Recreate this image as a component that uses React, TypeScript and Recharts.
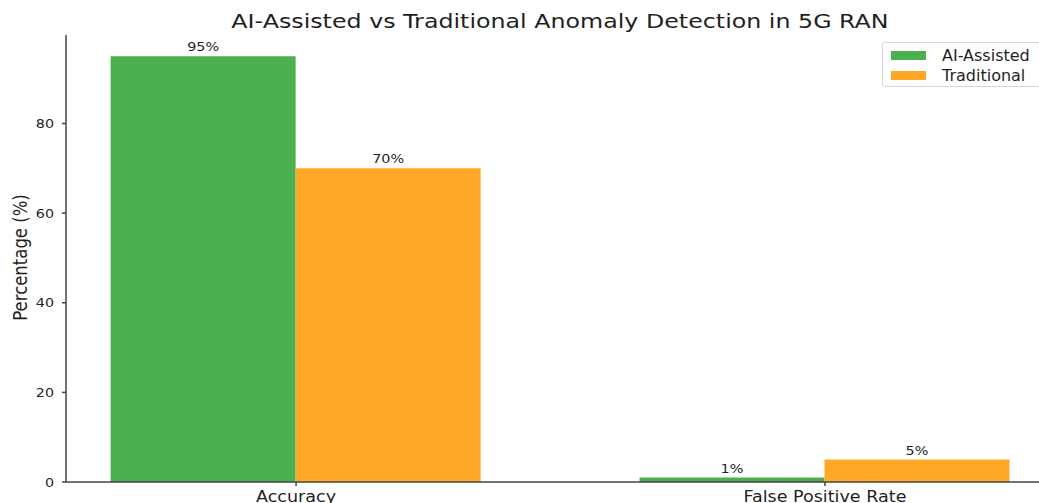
import React from "react";
import { BarChart, Bar, XAxis, YAxis, LabelList, Label } from "recharts";

const categories = ["Accuracy", "False Positive Rate"];
const aiAssisted = [95, 1];
const traditional = [70, 5];
const yTicks = [0, 20, 40, 60, 80];

const data = categories.map((name, i) => ({
  x: i,
  name,
  ai: aiAssisted[i],
  trad: traditional[i],
}));

const FONT = "'DejaVu Sans', sans-serif";
const GREEN = "#4CAF50";
const ORANGE = "#FFA726";
const AXIS = "#444";
const INK = "#1f1f1f";
// Text in this chart is drawn slightly wide
const SX = 1.2;

const XTick = (props: any) => {
  const { x, y, payload } = props;
  return (
    <g transform={`translate(${x},${y + 12}) scale(${SX - 0.03},1)`}>
      <text textAnchor="middle" fontFamily={FONT} fontSize={15} fill={INK}>
        {categories[payload.value] ?? ""}
      </text>
    </g>
  );
};

const YTick = (props: any) => {
  const { x, y, payload } = props;
  return (
    <g transform={`translate(${x},${y + 4.7}) scale(${SX - 0.1},1)`}>
      <text textAnchor="end" fontFamily={FONT} fontSize={13} fill={INK}>
        {payload.value}
      </text>
    </g>
  );
};

const ValueLabel = (props: any) => {
  const { x, y, width, value } = props;
  return (
    <g transform={`translate(${x + width / 2},${y - 5}) scale(${SX},1)`}>
      <text textAnchor="middle" fontFamily={FONT} fontSize={12} fill={INK}>
        {`${value}%`}
      </text>
    </g>
  );
};

const legendItems = [
  { label: "AI-Assisted", color: GREEN },
  { label: "Traditional", color: ORANGE },
];

export default function App() {
  return (
    <div
      style={{
        position: "absolute",
        left: 0,
        top: 0,
        width: 1039,
        height: 503,
        overflow: "hidden",
        background: "#fff",
      }}
    >
      <BarChart
        width={1070}
        height={503}
        data={data}
        margin={{ top: 35, right: 15, bottom: 0, left: 0 }}
        barGap={0}
      >
        <text
          transform={`translate(560,27.5) scale(1.25,1)`}
          textAnchor="middle"
          fontFamily={FONT}
          fontSize={19}
          fill={INK}
        >
          AI-Assisted vs Traditional Anomaly Detection in 5G RAN
        </text>
        <XAxis
          dataKey="x"
          type="number"
          domain={[-0.435, 1.435]}
          allowDataOverflow
          ticks={[0, 1]}
          interval={0}
          stroke={AXIS}
          strokeWidth={1.5}
          tickSize={4}
          tickMargin={4}
          height={21}
          tick={<XTick />}
        />
        <YAxis
          type="number"
          domain={[0, 99.75]}
          allowDataOverflow
          ticks={yTicks}
          interval={0}
          width={66}
          stroke={AXIS}
          strokeWidth={1.5}
          tickSize={4}
          tickMargin={8}
          tick={<YTick />}
        >
          <Label
            content={({ viewBox }: any) => {
              const cy = viewBox.y + viewBox.height / 2 - 1;
              return (
                <text
                  transform={`translate(26.5,${cy}) scale(${SX},1) rotate(-90)`}
                  textAnchor="middle"
                  fontFamily={FONT}
                  fontSize={16.5}
                  fill={INK}
                >
                  Percentage (%)
                </text>
              );
            }}
          />
        </YAxis>
        <Bar dataKey="ai" name="AI-Assisted" fill={GREEN} barSize={185} isAnimationActive={false}>
          <LabelList dataKey="ai" content={<ValueLabel />} />
        </Bar>
        <Bar dataKey="trad" name="Traditional" fill={ORANGE} barSize={185} isAnimationActive={false}>
          <LabelList dataKey="trad" content={<ValueLabel />} />
        </Bar>
      </BarChart>
      <div
        style={{
          position: "absolute",
          left: 882,
          top: 42,
          width: 190,
          height: 45,
          border: "1px solid #d6d6d6",
          borderRadius: 3,
          background: "#fff",
          boxSizing: "border-box",
          padding: "2px 0 0 8px",
          fontFamily: FONT,
          fontSize: 16,
          color: INK,
        }}
      >
        {legendItems.map((e) => (
          <div key={e.label} style={{ display: "flex", alignItems: "center", height: 20.5 }}>
            <span
              style={{
                display: "inline-block",
                width: 35,
                height: 9,
                background: e.color,
                marginRight: 16,
              }}
            />
            <span>{e.label}</span>
          </div>
        ))}
      </div>
    </div>
  );
}
